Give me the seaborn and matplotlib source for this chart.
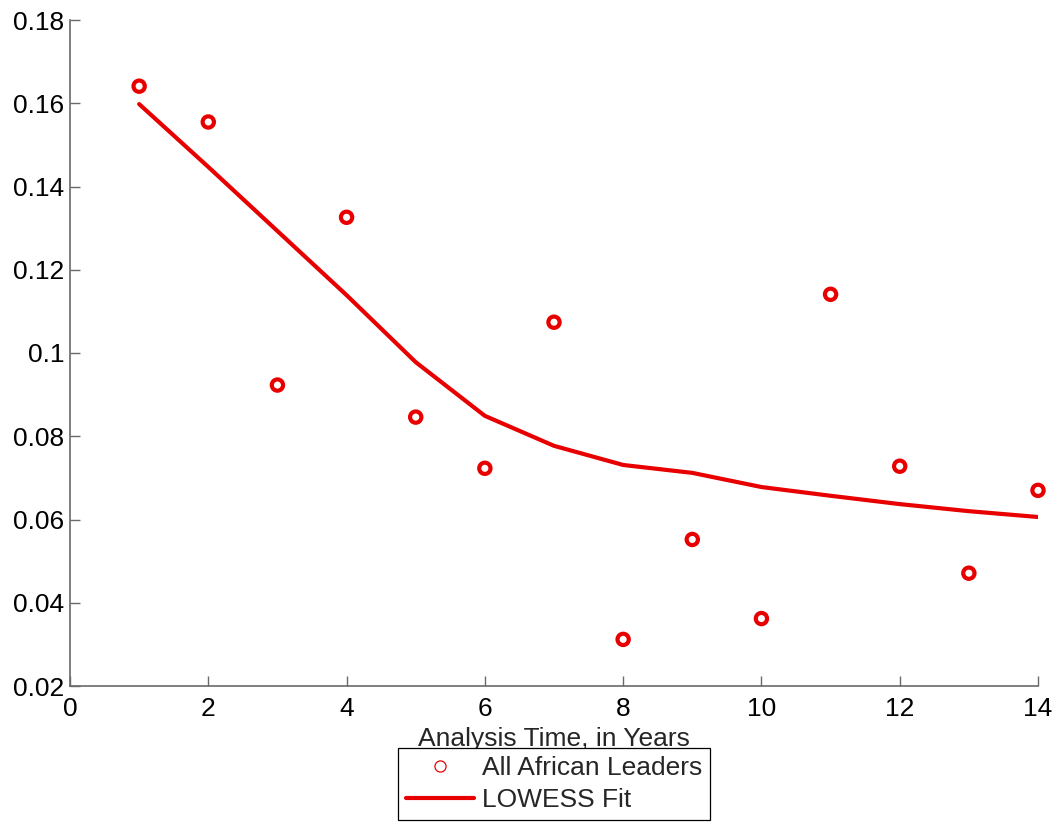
import matplotlib
matplotlib.use("Agg")
import matplotlib.pyplot as plt
from matplotlib.lines import Line2D
from matplotlib.ticker import FuncFormatter
import seaborn as sns
import pandas as pd

years = [1, 2, 3, 4, 5, 6, 7, 8, 9, 10, 11, 12, 13, 14]
hazard = [0.1641, 0.1555, 0.0923, 0.1326, 0.0846, 0.0723, 0.1074,
          0.0312, 0.0552, 0.0362, 0.1141, 0.0728, 0.0471, 0.0670]
lowess = [0.1598, 0.1447, 0.1293, 0.1139, 0.0978, 0.0849, 0.0777,
          0.0731, 0.0712, 0.0678, 0.0657, 0.0637, 0.0620, 0.0606]
x_ticks = [0, 2, 4, 6, 8, 10, 12, 14]
y_ticks = [0.02, 0.04, 0.06, 0.08, 0.10, 0.12, 0.14, 0.16, 0.18]
xlabel = "Analysis Time, in Years"
labels = ["All African Leaders", "LOWESS Fit"]

df = pd.DataFrame({"t": years, "h": hazard, "fit": lowess})

sns.set_style("ticks")
plt.rcParams["font.family"] = ["Liberation Sans", "DejaVu Sans"]

RED = "#e80000"
GRAY = "#6a6a6a"
FS = 19

fig = plt.figure(figsize=(10.58, 8.23), dpi=100)
ax = fig.add_axes([70 / 1058, 137 / 823, 968 / 1058, 666 / 823])

sns.lineplot(data=df, x="t", y="fit", ax=ax, color=RED, linewidth=3.0, zorder=2)
sns.scatterplot(data=df, x="t", y="h", ax=ax, marker="o", s=66,
                facecolors="none", edgecolor=RED, linewidth=3.0, zorder=3,
                clip_on=False)

ax.set_xlim(0, 14)
ax.set_ylim(0.02, 0.18)
ax.set_xticks(x_ticks)
ax.set_yticks(y_ticks)
ax.yaxis.set_major_formatter(FuncFormatter(lambda v, p: ("%g" % round(v, 4))))
ax.xaxis.set_major_formatter(FuncFormatter(lambda v, p: ("%g" % v)))

for s in ["top", "right"]:
    ax.spines[s].set_visible(False)
for s in ["left", "bottom"]:
    ax.spines[s].set_color(GRAY)
    ax.spines[s].set_linewidth(1.2)

ax.tick_params(axis="both", direction="in", length=7, width=1.0, color=GRAY,
               labelsize=FS, labelcolor="black")
ax.tick_params(axis="x", pad=8)
ax.tick_params(axis="y", pad=4)

ax.set_xlabel(xlabel, fontsize=FS, labelpad=4.5)
ax.set_ylabel("")

handles = [
    Line2D([], [], marker="o", linestyle="none", markerfacecolor="none",
           markeredgecolor=RED, markersize=8, markeredgewidth=0.9),
    Line2D([], [], color=RED, linewidth=3.0),
]
leg = fig.legend(handles, labels, loc="upper center",
                 bbox_to_anchor=(554 / 1058, 1 - 748 / 823),
                 fontsize=FS, frameon=True, fancybox=False, shadow=False,
                 handlelength=2.6, handletextpad=0.3, borderpad=0.3,
                 labelspacing=0.3, borderaxespad=0)
leg.get_frame().set_edgecolor("black")
leg.get_frame().set_linewidth(0.9)
leg.get_frame().set_facecolor("white")
leg.get_frame().set_alpha(1)

fig.savefig("out.png", dpi=100)
